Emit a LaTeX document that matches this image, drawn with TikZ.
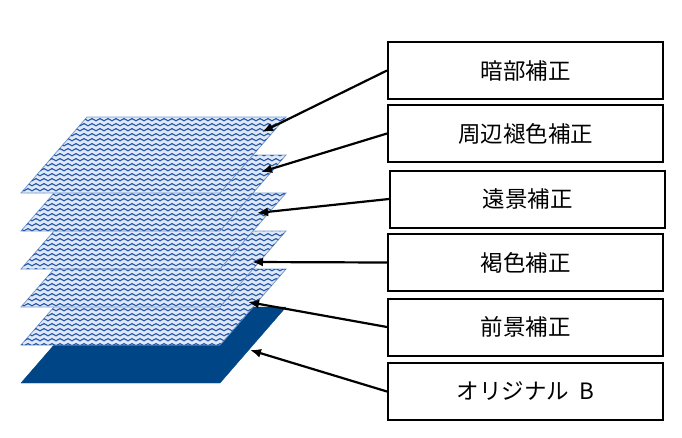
\documentclass[tikz,border=0pt]{standalone}
\usepackage{fontspec}
\setmainfont{Noto Sans CJK JP}
\usetikzlibrary{arrows.meta,patterns}

\definecolor{layerline}{RGB}{120,155,208}
\definecolor{layerwave}{RGB}{36,86,168}
\definecolor{layerbg}{RGB}{222,232,246}
\definecolor{basefill}{RGB}{0,69,134}

\pgfdeclarepatternformonly{waves}{\pgfpoint{-1pt}{-1pt}}{\pgfpoint{9pt}{6pt}}{\pgfpoint{8pt}{5pt}}{
  \pgfsetlinewidth{1.1pt}
  \pgfpathmoveto{\pgfpoint{0pt}{1.2pt}}
  \pgfpathlineto{\pgfpoint{4pt}{3.4pt}}
  \pgfpathlineto{\pgfpoint{8pt}{1.2pt}}
  \pgfusepath{stroke}
}

\tikzset{
  label box/.style={draw=black, line width=2pt, minimum width=275pt, minimum height=57pt,
    inner sep=0pt, font=\fontsize{22.5}{26}\selectfont},
  pointer/.style={line width=2.2pt, -{Latex[length=11pt,width=9pt]}},
  wave layer/.style={draw=layerline, line width=0.8pt, fill=layerbg,
    postaction={pattern=waves, pattern color=layerwave}},
  base layer/.style={fill=basefill, draw=basefill}
}

\begin{document}
\begin{tikzpicture}[x=1pt, y=-1pt]
  \useasboundingbox (0,0) rectangle (682,437);
  % layers, lowest first
  \foreach \i in {5,4,...,0} {
    \pgfmathsetmacro{\top}{117+38*\i}
    \ifnum\i=5
      \path[base layer] (21,\top+76) -- (220,\top+76) -- (286,\top) -- (87,\top) -- cycle;
    \else
      \path[wave layer] (21,\top+76) -- (220,\top+76) -- (286,\top) -- (87,\top) -- cycle;
    \fi
  }
  % pointer ends on the layers
  \coordinate (shadowpt) at (262,132);
  \coordinate (fadept) at (261,172);
  \coordinate (farpt) at (257,213);
  \coordinate (brownpt) at (252,262);
  \coordinate (nearpt) at (248,302);
  \coordinate (origpt) at (250,350);
  % labels
  \node[label box] (shadow) at (525.5,70.5) {暗部補正};
  \node[label box] (fade) at (525.5,133.5) {周辺褪色補正};
  \node[label box] (far) at (527.5,199) {遠景補正};
  \node[label box] (brown) at (525.5,262.5) {褐色補正};
  \node[label box] (near) at (525.5,327) {前景補正};
  \node[label box] (orig) at (525.5,391.5) {オリジナル\hspace{0.45em}B};
  % pointers
  \draw[pointer] (shadow.west) -- (shadowpt);
  \draw[pointer] (fade.west) -- (fadept);
  \draw[pointer] (far.west) -- (farpt);
  \draw[pointer] (brown.west) -- (brownpt);
  \draw[pointer] (near.west) -- (nearpt);
  \draw[pointer] (orig.west) -- (origpt);
\end{tikzpicture}
\end{document}
